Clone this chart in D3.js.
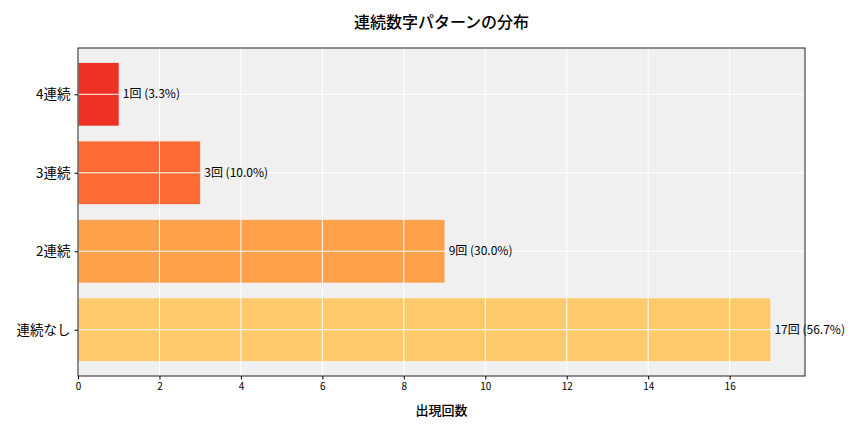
<!DOCTYPE html>
<html>
<head>
<meta charset="utf-8">
<script src="https://cdn.jsdelivr.net/npm/d3@7"></script>
<style>
  body { margin: 0; background: #fff; }
  svg text { font-family: "Noto Sans CJK JP", "Noto Sans", sans-serif; fill: #000; }
</style>
</head>
<body>
<div id="chart"></div>
<script>
// データ (上から順)
const categories = ['4連続', '3連続', '2連続', '連続なし'];
const counts = [1, 3, 9, 17];
const percents = [3.3, 10.0, 30.0, 56.7];
const barColors = ['#ef3125', '#ff6b35', '#ffa04b', '#fec96a'];
const xTicks = [0, 2, 4, 6, 8, 10, 12, 14, 16];

const width = 864, height = 432;
const margin = { top: 48, right: 59, bottom: 56, left: 78 };
const innerW = width - margin.left - margin.right,
    innerH = height - margin.top - margin.bottom;

const svg = d3.select('#chart').append('svg')
    .attr('width', width)
    .attr('height', height);

const g = svg.append('g')
    .attr('transform', 'translate(' + margin.left + ',' + margin.top + ')');

// matplotlib風: xは最大値の5%余白、yはバンド位置 0..3 に±0.59
const x = d3.scaleLinear()
    .domain([0, d3.max(counts) * 1.05])
    .range([0, innerW]);

const y = d3.scaleLinear()
    .domain([-0.59, categories.length - 1 + 0.59])
    .range([0, innerH]);

g.append('rect')
    .attr('width', innerW)
    .attr('height', innerH)
    .attr('fill', '#f0f0f0');

// 棒
g.selectAll('.bar')
    .data(counts)
    .enter().append('rect')
    .attr('x', x(0))
    .attr('y', (d, i) => y(i - 0.4))
    .attr('width', d => x(d) - x(0))
    .attr('height', y(0.4) - y(-0.4))
    .attr('fill', (d, i) => barColors[i]);

// グリッド (棒の上に描く)
g.selectAll('.vgrid')
    .data(xTicks)
    .enter().append('line')
    .attr('x1', d => x(d)).attr('x2', d => x(d))
    .attr('y1', 0).attr('y2', innerH)
    .attr('stroke', '#fff').attr('stroke-width', 1);

g.selectAll('.hgrid')
    .data(categories)
    .enter().append('line')
    .attr('x1', 0).attr('x2', innerW)
    .attr('y1', (d, i) => y(i)).attr('y2', (d, i) => y(i))
    .attr('stroke', '#fff').attr('stroke-width', 1);

// ラベル
g.selectAll('.label')
    .data(counts)
    .enter().append('text')
    .attr('x', d => x(d + 0.1))
    .attr('y', (d, i) => y(i))
    .attr('dy', '0.35em')
    .style('font-size', '12px')
    .text((d, i) => d + '回 (' + percents[i].toFixed(1) + '%)');

// 枠
g.append('rect')
    .attr('width', innerW)
    .attr('height', innerH)
    .attr('fill', 'none')
    .attr('stroke', '#222')
    .attr('stroke-width', 1);

// x軸
const xAxis = g.append('g')
    .attr('transform', 'translate(0,' + innerH + ')')
    .call(d3.axisBottom(x).tickValues(xTicks).tickSize(3.5).tickPadding(3));
xAxis.select('.domain').remove();
xAxis.selectAll('text').style('font-size', '10px');

// y軸
const yAxis = g.append('g')
    .call(d3.axisLeft(y).tickValues(d3.range(categories.length))
        .tickFormat(i => categories[i]).tickSize(3.5).tickPadding(4));
yAxis.select('.domain').remove();
yAxis.selectAll('text').style('font-size', '13.5px');

// タイトル
svg.append('text')
    .attr('x', margin.left + innerW / 2)
    .attr('y', 22)
    .attr('dy', '0.35em')
    .attr('text-anchor', 'middle')
    .style('font-size', '16px')
    .style('font-weight', 500)
    .text('連続数字パターンの分布');

svg.append('text')
    .attr('x', margin.left + innerW / 2)
    .attr('y', 410)
    .attr('dy', '0.35em')
    .attr('text-anchor', 'middle')
    .style('font-size', '13px')
    .style('font-weight', 500)
    .text('出現回数');
</script>
</body>
</html>
